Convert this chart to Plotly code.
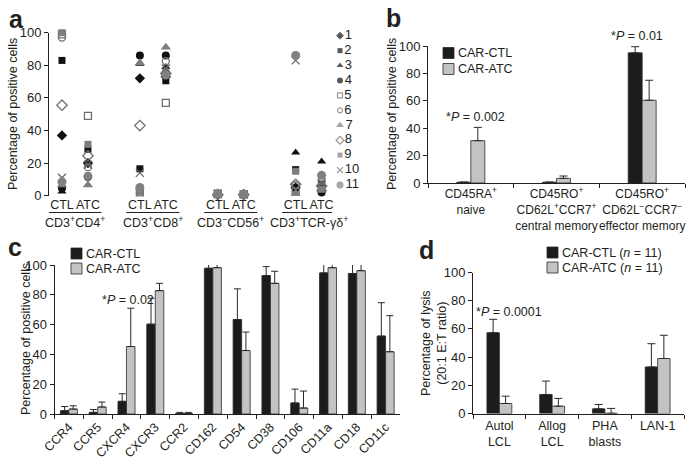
import plotly.graph_objects as go

W, H = 698, 464
FONT = "Liberation Sans, Arial, Helvetica, sans-serif"
TXT = "#231f20"
CTL_COLOR = "#1c1c1c"
ATC_COLOR = "#c3c3c3"

# ---------------- Panel a data ----------------
a_groups = ["CD3<sup>+</sup>CD4<sup>+</sup>", "CD3<sup>+</sup>CD8<sup>+</sup>",
            "CD3<sup>−</sup>CD56<sup>+</sup>", "CD3<sup>+</sup>TCR-γδ<sup>+</sup>"]
a_conditions = ["CTL", "ATC"]
a_donors = ["1", "2", "3", "4", "5", "6", "7", "8", "9", "10", "11"]
# order: CD4 CTL, CD4 ATC, CD8 CTL, CD8 ATC, CD56 CTL, CD56 ATC, TCRgd CTL, TCRgd ATC
donor1 = [37, 20, 72, 73, 0.8, 0.5, 5, 3]
donor2 = [83, 28.5, 16.5, 70.5, 1.0, 0.8, 16, 7]
donor3 = [2.5, 20.5, 81, 79, 0.5, 0.3, 26.5, 21]
donor4 = [4.5, 11.5, 86, 86, 0.7, 0.6, 4.5, 2]
donor5 = [99, 49, 2, 57, 1.2, 1.0, 2.5, 5]
donor6 = [97, 17.5, 4, 82.5, 0.8, 0.8, 6.5, 9]
donor7 = [6.5, 6.5, 81.5, 91, 1.0, 1.0, 1.5, 3.5]
donor8 = [55.5, 24.5, 43, 75, 0.6, 0.7, 7, 6]
donor9 = [100, 31.5, 2.5, 76, 1.5, 1.2, 15, 4]
donor10 = [11, 19, 14, 78, 1.0, 0.8, 83, 8]
donor11 = [8.5, 12, 5, 74, 1.0, 0.9, 86, 12.5]
a_values = [donor1, donor2, donor3, donor4, donor5, donor6,
            donor7, donor8, donor9, donor10, donor11]
a_ticks = [0, 20, 40, 60, 80, 100]

a_symbols = ["diamond", "square", "triangle-up", "circle", "square-open", "circle-open",
             "triangle-up", "diamond-open", "square", "x-thin", "circle"]
a_colors = ["#111111", "#111111", "#111111", "#111111", "#6f6f6f", "#6f6f6f",
            "#7d7d7d", "#6f6f6f", "#7d7d7d", "#666666", "#808080"]
a_sizes = [8, 7, 8, 8, 7, 7, 9, 8, 7, 8, 9]

# ---------------- Panel b data ----------------
b_subsets = ["CD45RA<sup>+</sup><br>naive",
             "CD45RO<sup>+</sup><br>CD62L<sup>+</sup>CCR7<sup>+</sup><br>central memory",
             "CD45RO<sup>+</sup><br>CD62L<sup>−</sup>CCR7<sup>−</sup><br>effector memory"]
series_names = ["CAR-CTL", "CAR-ATC"]
b_ctl = [0.6, 0.6, 95]
b_ctl_err = [0, 0, 4.5]
b_atc = [30.9, 3.4, 60.4]
b_atc_err = [9.7, 1.7, 14.6]

# ---------------- Panel c data ----------------
c_markers = ["CCR4", "CCR5", "CXCR4", "CXCR3", "CCR2", "CD162",
             "CD54", "CD38", "CD106", "CD11a", "CD18", "CD11c"]
c_ctl = [2.2, 1.1, 8.5, 60.3, 0.3, 97.8, 63.4, 92.9, 7.4, 94.7, 94.3, 52.3]
c_ctl_err = [2.8, 1.9, 5.1, 17.4, 0.8, 2.8, 20.6, 6.0, 9.3, 6.3, 6.7, 22.4]
c_atc = [3.3, 4.7, 45.3, 82.8, 0.3, 98.2, 42.6, 87.7, 4.0, 98.2, 96.2, 41.8]
c_atc_err = [2.2, 3.3, 25.7, 4.9, 0.8, 2.8, 12.4, 8.1, 11.4, 2.6, 4.6, 24.2]

# ---------------- Panel d data ----------------
d_targets = ["Autol<br>LCL", "Allog<br>LCL", "PHA<br>blasts", "LAN-1"]
d_ctl = [57.3, 13.5, 3.3, 33]
d_ctl_err = [9.5, 9.5, 3.1, 16.5]
d_atc = [7.1, 5.2, 0.2, 39]
d_atc_err = [5.2, 5.5, 3.4, 16.5]
d_n = 11


def px(x):
    return x / W


def py(y):
    return 1 - y / H


fig = go.Figure()

# ---- Panel a scatter ----
a_pos = []
for gi in range(len(a_groups)):
    for ci in range(len(a_conditions)):
        a_pos.append(gi * 3 + ci)

for i, name in enumerate(a_donors):
    fig.add_trace(go.Scatter(
        x=a_pos, y=a_values[i], mode="markers", name=name, xaxis="x", yaxis="y",
        cliponaxis=False, showlegend=False,
        marker=dict(symbol=a_symbols[i], size=a_sizes[i], color=a_colors[i],
                    line=dict(color=a_colors[i], width=1.3 if ("open" in a_symbols[i] or "thin" in a_symbols[i]) else 0))))

# legend of panel a (own small axis, one row per donor)
fig.add_trace(go.Scatter(
    x=[0] * len(a_donors), y=list(range(len(a_donors))), mode="markers+text",
    text=a_donors, textposition="middle right", xaxis="x5", yaxis="y5",
    cliponaxis=False, showlegend=False, textfont=dict(size=13, color=TXT),
    marker=dict(symbol=a_symbols, size=[s - 2 for s in a_sizes], color=a_colors,
                line=dict(color=a_colors, width=[1.2 if ("open" in s or "thin" in s) else 0 for s in a_symbols]))))

# ---- bar helper ----
def add_bars(xcat, vals, errs, name, color, xa, ya, width, offset, cap):
    fig.add_trace(go.Bar(
        x=xcat, y=vals, name=name, xaxis=xa, yaxis=ya, width=width, offset=offset,
        marker=dict(color=color, line=dict(color="#2a2a2a", width=0.8)),
        cliponaxis=False, showlegend=False,
        error_y=dict(type="data", array=errs, arrayminus=[0] * len(errs), symmetric=False,
                     color="#2a2a2a", thickness=1, width=cap)))

bw_b = 0.163
add_bars(b_subsets, b_ctl, b_ctl_err, series_names[0], CTL_COLOR, "x2", "y2", bw_b, -bw_b, 4)
add_bars(b_subsets, b_atc, b_atc_err, series_names[1], ATC_COLOR, "x2", "y2", bw_b, 0, 4)

bw_c = 0.296
add_bars(c_markers, c_ctl, c_ctl_err, series_names[0], CTL_COLOR, "x3", "y3", bw_c, -bw_c, 3.5)
add_bars(c_markers, c_atc, c_atc_err, series_names[1], ATC_COLOR, "x3", "y3", bw_c, 0, 3.5)

bw_d = 0.236
add_bars(d_targets, d_ctl, d_ctl_err, series_names[0], CTL_COLOR, "x4", "y4", bw_d, -bw_d, 4)
add_bars(d_targets, d_atc, d_atc_err, series_names[1], ATC_COLOR, "x4", "y4", bw_d, 0, 4)

# ---- axes ----
yax = dict(range=[0, 100], tickvals=a_ticks, showline=True, linecolor=TXT, linewidth=1,
           ticks="outside", ticklen=4, tickcolor=TXT, showgrid=False, zeroline=False,
           tickfont=dict(size=13, color=TXT), fixedrange=True, automargin=False)
xcat = dict(showline=True, linecolor=TXT, linewidth=1, ticks="outside", ticklen=4,
            tickcolor=TXT, tickson="boundaries", showgrid=False, zeroline=False,
            fixedrange=True, automargin=False)

fig.update_layout(
    template="none",
    width=W, height=H, margin=dict(l=0, r=0, t=0, b=0, pad=0, autoexpand=False),
    paper_bgcolor="white", plot_bgcolor="white", showlegend=False, barmode="overlay",
    font=dict(family=FONT, size=13, color=TXT),
    xaxis=dict(domain=[px(49), px(332)], range=[-0.5, 10.4], tickvals=a_pos, anchor="y",
               ticktext=a_conditions * len(a_groups), ticks="", showline=False, tickangle=0,
               showgrid=False, zeroline=False, tickfont=dict(size=12.5, color=TXT),
               fixedrange=True, automargin=False),
    yaxis=dict(domain=[py(195.7), py(32.7)], anchor="x", **yax),
    xaxis2=dict(domain=[px(428), px(685)], range=[-0.5, 2.5], anchor="y2", tickangle=0,
                tickfont=dict(size=12, color=TXT), **xcat),
    yaxis2=dict(domain=[py(183), py(46)], anchor="x2", **yax),
    xaxis3=dict(domain=[px(54.5), px(400)], range=[-0.5, 11.5], tickangle=-45, anchor="y3",
                tickfont=dict(size=12.5, color=TXT), **xcat),
    yaxis3=dict(domain=[py(414), py(265)], anchor="x3", **yax),
    xaxis4=dict(domain=[px(473), px(684)], range=[-0.5, 3.5], anchor="y4", tickangle=0,
                tickfont=dict(size=12.5, color=TXT), **xcat),
    yaxis4=dict(domain=[py(413.5), py(272.5)], anchor="x4", **yax),
    xaxis5=dict(domain=[px(330), px(370)], range=[-10, 30], visible=False, anchor="y5",
                fixedrange=True, automargin=False),
    yaxis5=dict(domain=[py(193), py(28)], range=[10.536, -0.516], visible=False, anchor="x5",
                fixedrange=True, automargin=False),
)

ann = []
shapes = []

# panel letters
for letter, x, y in [("a", 7, 19), ("b", 384, 18), ("c", 6, 247), ("d", 417, 250)]:
    ann.append(dict(text="<b>%s</b>" % letter, x=px(x), y=py(y), xref="paper", yref="paper",
                    xanchor="left", yanchor="middle", showarrow=False,
                    font=dict(size=25, color=TXT, family=FONT)))

# axis titles
ytitle = "Percentage of positive cells"
for txt, x, y in [(ytitle, 13, 114), (ytitle, 392, 114), (ytitle, 26, 339),
                  ("Percentage of lysis<br>(20:1 E:T ratio)", 434, 343)]:
    ann.append(dict(text=txt, x=px(x), y=py(y), xref="paper", yref="paper", textangle=-90,
                    xanchor="center", yanchor="middle", showarrow=False,
                    font=dict(size=12.5, color=TXT)))

# panel a group labels + underlines
for gi, g in enumerate(a_groups):
    c = gi * 3 + 0.5
    ann.append(dict(text=g, x=c, y=py(222), xref="x", yref="paper", xanchor="center",
                    yanchor="middle", showarrow=False, font=dict(size=12.5, color=TXT)))
    shapes.append(dict(type="line", x0=c - 1.02, x1=c + 1.02, y0=py(212.5), y1=py(212.5),
                       xref="x", yref="paper", line=dict(color=TXT, width=1)))

# p-value annotations
for txt, x, y in [("*<i>P</i> = 0.002", 475, 117), ("*<i>P</i> = 0.01", 637, 36),
                  ("*<i>P</i> = 0.02", 128, 300), ("*<i>P</i> = 0.0001", 509, 312)]:
    ann.append(dict(text=txt, x=px(x), y=py(y), xref="paper", yref="paper", xanchor="center",
                    yanchor="middle", showarrow=False, font=dict(size=12.5, color=TXT)))

# bar legends (b, c, d)
for (sx, sy1, sy2, label_suffix) in [(443, 53, 69, ""), (71, 253.5, 268.5, ""),
                                     (547, 252.5, 267.5, " (<i>n</i> = %d)" % d_n)]:
    for sy, col, nm in [(sy1, CTL_COLOR, series_names[0]), (sy2, ATC_COLOR, series_names[1])]:
        shapes.append(dict(type="rect", x0=px(sx), x1=px(sx + 11), y0=py(sy - 5.5), y1=py(sy + 5.5),
                           xref="paper", yref="paper", fillcolor=col,
                           line=dict(color="#2a2a2a", width=0.8)))
        ann.append(dict(text=nm + label_suffix, x=px(sx + 13), y=py(sy), xref="paper", yref="paper",
                        xanchor="left", yanchor="middle", showarrow=False,
                        font=dict(size=12.5, color=TXT)))

fig.update_layout(annotations=ann, shapes=shapes)
fig.write_html("out.html", config={"displayModeBar": False, "staticPlot": True},
               post_script="document.body.style.margin='0px';document.body.style.overflow='hidden';")
